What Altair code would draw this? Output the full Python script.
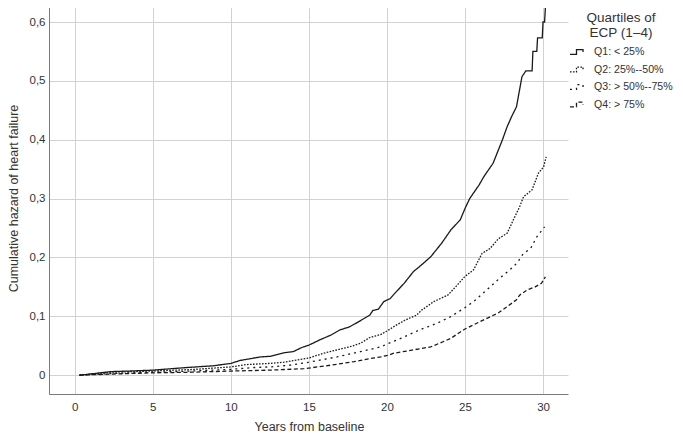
import altair as alt
import pandas as pd

series_names = ["Q1: < 25%", "Q2: 25%--50%", "Q3: > 50%--75%", "Q4: > 75%"]

q1_x = [0.3, 1.0, 2.3, 3.5, 5.0, 6.2, 7.2, 8.9, 10.0, 10.6, 11.9, 12.5, 13.4, 14.0, 14.55, 15.0, 15.7, 16.4,
        17.0, 17.6, 18.2, 18.9, 19.1, 19.45, 19.8, 20.2, 20.4, 21.1, 21.7, 22.2, 22.8, 23.5, 24.1, 24.7, 25.0,
        25.3, 25.9, 26.2, 26.8, 27.4, 27.7, 28.0, 28.3, 28.65, 28.9, 29.3, 29.35, 29.6, 29.65, 29.95, 30.0,
        30.1, 30.15]
q1_y = [0.0, 0.002, 0.006, 0.007, 0.0085, 0.011, 0.013, 0.016, 0.02, 0.025, 0.031, 0.032, 0.038, 0.040, 0.047,
        0.051, 0.06, 0.068, 0.077, 0.082, 0.091, 0.102, 0.11, 0.112, 0.125, 0.13, 0.136, 0.156, 0.176, 0.187,
        0.201, 0.224, 0.247, 0.264, 0.283, 0.30, 0.323, 0.337, 0.36, 0.40, 0.422, 0.44, 0.456, 0.507, 0.517,
        0.517, 0.55, 0.55, 0.573, 0.573, 0.60, 0.60, 0.624]

q2_x = [0.3, 2.3, 5.0, 7.6, 10.0, 11.0, 12.5, 13.4, 14.2, 15.0, 15.9, 16.8, 17.6, 18.3, 18.9, 19.6, 20.0, 20.6,
        21.2, 21.9, 22.2, 23.0, 23.9, 24.4, 24.97, 25.55, 26.1, 26.6, 27.15, 27.7, 28.1, 28.5, 28.75, 29.3,
        29.7, 30.04, 30.2]
q2_y = [0.0, 0.005, 0.007, 0.0097, 0.014, 0.018, 0.02, 0.022, 0.0255, 0.029, 0.037, 0.043, 0.048, 0.054, 0.064,
        0.069, 0.075, 0.085, 0.094, 0.102, 0.11, 0.125, 0.136, 0.15, 0.167, 0.179, 0.207, 0.215, 0.232, 0.241,
        0.264, 0.286, 0.303, 0.315, 0.343, 0.354, 0.371]

q3_x = [0.3, 2.5, 5.0, 7.5, 10.0, 11.5, 12.5, 13.8, 15.0, 16.8, 18.3, 19.6, 20.1, 20.85, 22.1, 23.2, 24.06,
        24.9, 25.55, 26.4, 27.15, 27.6, 28.1, 28.4, 28.75, 29.2, 29.6, 30.1]
q3_y = [0.0, 0.003, 0.005, 0.007, 0.01, 0.013, 0.014, 0.017, 0.022, 0.031, 0.04, 0.048, 0.054, 0.062, 0.077,
        0.088, 0.099, 0.113, 0.125, 0.145, 0.163, 0.173, 0.184, 0.193, 0.207, 0.215, 0.235, 0.252]

q4_x = [0.3, 2.5, 5.0, 7.5, 10.0, 12.5, 14.7, 16.4, 17.9, 18.9, 19.6, 20.1, 20.4, 21.7, 22.8, 24.06, 24.97,
        26.2, 27.15, 28.3, 28.5, 29.0, 29.5, 29.9, 30.15]
q4_y = [0.0, 0.002, 0.004, 0.005, 0.007, 0.0085, 0.011, 0.017, 0.023, 0.028, 0.031, 0.034, 0.037, 0.043, 0.048,
        0.062, 0.078, 0.094, 0.106, 0.128, 0.136, 0.145, 0.15, 0.156, 0.167]

x_ticks = [0, 5, 10, 15, 20, 25, 30]
y_ticks = [0, 0.1, 0.2, 0.3, 0.4, 0.5, 0.6]

rows = []
for name, xs, ys in zip(series_names, [q1_x, q2_x, q3_x, q4_x], [q1_y, q2_y, q3_y, q4_y]):
    for i, (a, b) in enumerate(zip(xs, ys)):
        rows.append({"series": name, "t": a, "h": b, "order": i})
df = pd.DataFrame(rows)

FONT = "Liberation Sans"
step_path = "M-1,0.35H0V-0.35H1V0"
legend_title = ["Quartiles of", "ECP (1–4)"]

chart = alt.Chart(df).mark_line(strokeWidth=1.3, clip=True).encode(
    x=alt.X("t:Q", scale=alt.Scale(domain=[-1.65, 31.6], nice=False, zero=False),
            axis=alt.Axis(values=x_ticks, title="Years from baseline", ticks=False,
                          labelPadding=7, titlePadding=8, titleX=260)),
    y=alt.Y("h:Q", scale=alt.Scale(domain=[-0.032, 0.634], nice=False, zero=False),
            axis=alt.Axis(values=y_ticks, title="Cumulative hazard of heart failure", ticks=False,
                          labelPadding=4, titlePadding=9,
                          labelExpr="datum.value == 0 ? '0' : replace(format(datum.value, '.1f'), '.', ',')")),
    color=alt.Color("series:N", sort=series_names,
                    scale=alt.Scale(domain=series_names, range=["#1a1a1a"] * 4),
                    legend=alt.Legend(title=legend_title, orient="none", legendX=520, legendY=9)),
    strokeDash=alt.StrokeDash("series:N", sort=series_names,
                              scale=alt.Scale(domain=series_names,
                                              range=[[1, 0], [1.6, 1.4], [2, 4], [4, 2.5]]),
                              legend=alt.Legend(title=legend_title, orient="none", legendX=520, legendY=9)),
    order="order:Q",
).properties(
    width=519, height=392,
    autosize=alt.AutoSizeParams(type="none"),
    padding={"left": 41, "top": -6, "right": 107, "bottom": 41},
).configure_view(stroke=None).configure_axis(
    labelFont=FONT, titleFont=FONT, labelFontSize=11.5, titleFontSize=12.5, titleFontWeight="normal",
    labelColor="#333333", titleColor="#333333", gridColor="#d2d2d2", gridWidth=1,
    domainColor="#7a7a7a", domainWidth=1,
).configure_legend(
    titleFont=FONT, labelFont=FONT, titleFontSize=13.5, titleFontWeight="normal", titleColor="#333333",
    labelFontSize=10.6, labelColor="#333333", titleAlign="center", titleAnchor="middle",
    symbolType=step_path, symbolSize=170, symbolStrokeWidth=1.3, symbolFillColor="transparent",
    rowPadding=3.5, titlePadding=5, labelOffset=10, titleLineHeight=15,
)

chart.save("out.html", embed_options={"renderer": "svg", "actions": False})
